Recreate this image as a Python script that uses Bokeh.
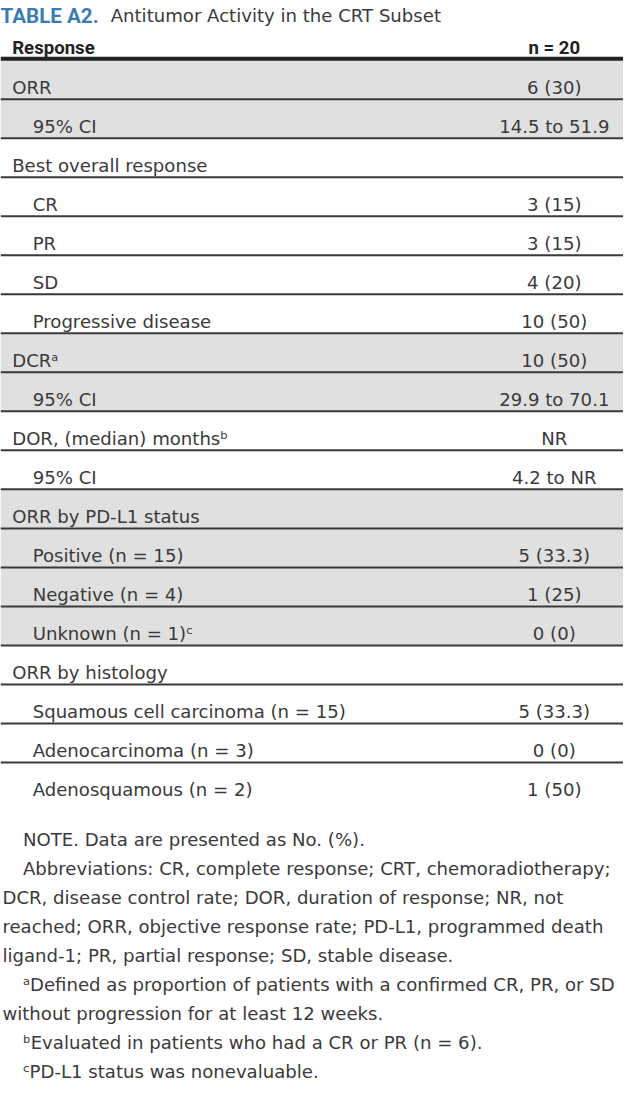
from bokeh.plotting import figure
from bokeh.models import Range1d, ColumnDataSource
from bokeh.embed import file_html
from bokeh.resources import INLINE
from bokeh.core.properties import value

# ---------------- data ----------------
title_label = "TABLE A2."
title_text = "Antitumor Activity in the CRT Subset"
col_headers = ["Response", "n = 20"]

row_labels = [
    "ORR", "95% CI", "Best overall response", "CR", "PR", "SD",
    "Progressive disease", "DCR\u1d43", "95% CI", "DOR, (median) months\u1d47",
    "95% CI", "ORR by PD-L1 status", "Positive (n = 15)", "Negative (n = 4)",
    "Unknown (n = 1)\u1d9c", "ORR by histology", "Squamous cell carcinoma (n = 15)",
    "Adenocarcinoma (n = 3)", "Adenosquamous (n = 2)",
]
row_values = [
    "6 (30)", "14.5 to 51.9", "", "3 (15)", "3 (15)", "4 (20)", "10 (50)",
    "10 (50)", "29.9 to 70.1", "NR", "4.2 to NR", "", "5 (33.3)", "1 (25)",
    "0 (0)", "", "5 (33.3)", "0 (0)", "1 (50)",
]
row_indent = [0, 1, 0, 1, 1, 1, 1, 0, 1, 0, 1, 0, 1, 1, 1, 0, 1, 1, 1]
row_shaded = [1, 1, 0, 0, 0, 0, 0, 1, 1, 0, 0, 1, 1, 1, 1, 0, 0, 0, 0]

footnotes = [
    ("NOTE. Data are presented as No. (%).", 1),
    ("Abbreviations: CR, complete response; CRT, chemoradiotherapy;", 1),
    ("DCR, disease control rate; DOR, duration of response; NR, not", 0),
    ("reached; ORR, objective response rate; PD-L1, programmed death", 0),
    ("ligand-1; PR, partial response; SD, stable disease.", 0),
    ("\u1d43Defined as proportion of patients with a confirmed CR, PR, or SD", 1),
    ("without progression for at least 12 weeks.", 0),
    ("\u1d47Evaluated in patients who had a CR or PR (n = 6).", 1),
    ("\u1d9cPD-L1 status was nonevaluable.", 1),
]

# ---------------- layout (reference pixel space) ----------------
REF_W, REF_H = 639, 1097
W, H = 623, 1081
scale = (W / REF_W + H / REF_H) / 2

FONT = "DejaVu Sans"
BOLD_FONT = "Roboto"
TEXT_COLOR = "#3a3a3a"
BLUE = "#3b7bb3"
SHADE = "#e0e0e0"
fs = lambda px: f"{px * scale:.1f}px"
BODY_PX = 18.5

ROW_TOP0 = 60.5
ROW_H = 39.6
VAL_X = 568

p = figure(width=W, height=H, x_range=Range1d(0, REF_W), y_range=Range1d(REF_H, 0),
           output_backend="svg", toolbar_location=None, min_border=0)
p.axis.visible = False
p.grid.visible = False
p.outline_line_color = None
p.background_fill_color = "white"
p.border_fill_color = "white"

n = len(row_labels)
tops = [ROW_TOP0 + i * ROW_H for i in range(n)]
bottoms = [t + ROW_H for t in tops]

# shaded rows
sh = ColumnDataSource(dict(
    top=[tops[i] for i in range(n) if row_shaded[i]],
    bottom=[bottoms[i] for i in range(n) if row_shaded[i]],
))
p.quad(left=0, right=REF_W, top="top", bottom="bottom", source=sh,
       fill_color=SHADE, line_color=None)

# separators
seps = ColumnDataSource(dict(y=tops[1:]))
p.segment(x0=0, x1=REF_W, y0="y", y1="y", source=seps, line_color="#3a3a3a", line_width=2)
# header rule
p.segment(x0=[0], x1=[REF_W], y0=[59], y1=[59], line_color="#222222", line_width=4)

# title
p.text(x=[0], y=[15.5], text=[title_label], text_font=value(BOLD_FONT), text_font_size=fs(21),
       text_font_style="bold", text_color=BLUE, text_baseline="alphabetic")
p.text(x=[113], y=[15.5], text=[title_text], text_font=value(FONT), text_font_size=fs(BODY_PX),
       text_color="#3a3a3a", text_baseline="alphabetic")

# column headers
p.text(x=[12], y=[48], text=[col_headers[0]], text_font=value(BOLD_FONT), text_font_size=fs(19),
       text_font_style="bold", text_color="#222222", text_baseline="alphabetic")
p.text(x=[VAL_X], y=[48], text=[col_headers[1]], text_font=value(BOLD_FONT), text_font_size=fs(19),
       text_font_style="bold", text_color="#222222", text_baseline="alphabetic", text_align="center")

# body
body = ColumnDataSource(dict(
    x=[12 + 21 * ind for ind in row_indent],
    y=[t + 27.8 for t in tops],
    label=row_labels,
    vx=[VAL_X] * n,
    val=row_values,
))
p.text(x="x", y="y", text="label", source=body, text_font=value(FONT), text_font_size=fs(BODY_PX),
       text_color=TEXT_COLOR, text_baseline="alphabetic")
p.text(x="vx", y="y", text="val", source=body, text_font=value(FONT), text_font_size=fs(BODY_PX),
       text_color=TEXT_COLOR, text_baseline="alphabetic", text_align="center")

# footnotes
FN_Y0 = 851
FN_DY = 29.5
fn = ColumnDataSource(dict(
    x=[23 if ind else 2 for _, ind in footnotes],
    y=[FN_Y0 + i * FN_DY for i in range(len(footnotes))],
    t=[t for t, _ in footnotes],
))
p.text(x="x", y="y", text="t", source=fn, text_font=value(FONT), text_font_size=fs(BODY_PX),
       text_color=TEXT_COLOR, text_baseline="alphabetic")

open("out.html", "w").write(file_html(p, INLINE))
